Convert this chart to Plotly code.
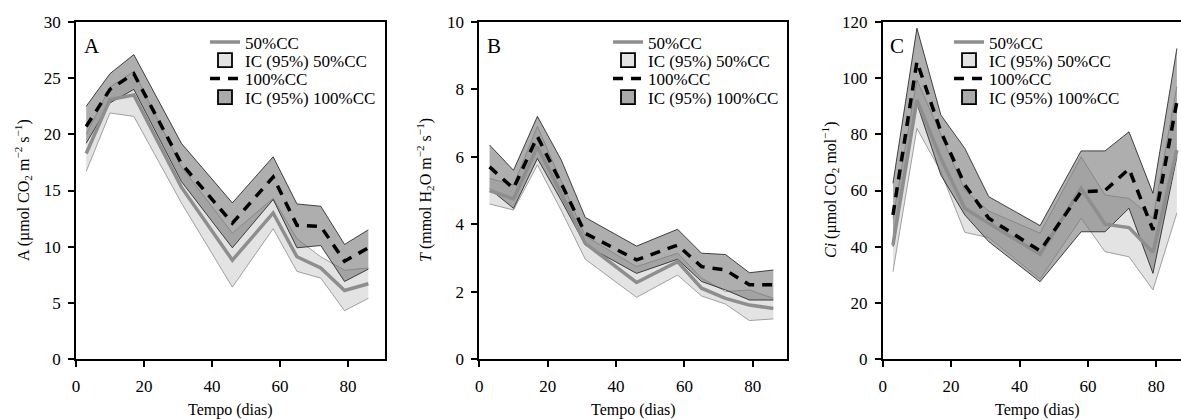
import plotly.graph_objects as go

# ---------------- data ----------------
days = [3, 10, 17, 24, 31, 46, 58, 65, 72, 79, 86]

A_50 = [18.3, 23.1, 23.5, 19.4, 15.3, 8.8, 13.0, 9.1, 8.1, 6.1, 6.7]
A_50_lo = [16.7, 21.9, 21.6, 17.8, 13.9, 6.4, 11.6, 7.8, 7.2, 4.3, 5.4]
A_50_hi = [20.0, 24.2, 25.6, 21.3, 17.1, 11.2, 14.3, 10.7, 9.1, 7.9, 8.1]
A_100 = [20.7, 24.0, 25.4, 21.4, 17.4, 12.1, 16.2, 11.9, 11.8, 8.7, 9.9]
A_100_lo = [19.2, 22.8, 24.0, 19.9, 15.8, 9.9, 14.2, 9.9, 10.1, 6.9, 8.0]
A_100_hi = [22.5, 25.4, 27.1, 23.2, 19.2, 13.9, 18.0, 13.8, 13.6, 10.2, 11.5]

B_50 = [5.0, 4.75, 6.3, 4.9, 3.43, 2.27, 2.89, 2.1, 1.8, 1.6, 1.5]
B_50_lo = [4.6, 4.42, 5.76, 4.4, 2.96, 1.83, 2.49, 1.87, 1.63, 1.14, 1.19]
B_50_hi = [5.36, 5.16, 6.9, 5.3, 3.65, 2.74, 3.14, 2.4, 2.0, 2.05, 1.8]
B_100 = [5.7, 5.06, 6.6, 5.2, 3.73, 2.94, 3.38, 2.74, 2.64, 2.2, 2.2]
B_100_lo = [5.05, 4.47, 5.95, 4.7, 3.38, 2.54, 2.96, 2.3, 2.05, 1.75, 1.75]
B_100_hi = [6.35, 5.6, 7.2, 5.9, 4.2, 3.35, 3.85, 3.14, 3.1, 2.56, 2.64]

C_50 = [40.6, 92.2, 71.5, 53.7, 48.3, 37.3, 60.8, 48.0, 46.8, 38.0, 74.4]
C_50_lo = [31.1, 82.1, 66.7, 45.1, 43.2, 28.5, 50.1, 38.2, 36.4, 24.6, 52.0]
C_50_hi = [50.0, 99.4, 80.0, 60.0, 52.7, 44.8, 72.0, 58.4, 57.2, 50.1, 97.0]
C_100 = [51.3, 105.9, 81.0, 62.0, 50.1, 38.5, 59.5, 60.0, 67.7, 46.0, 91.6]
C_100_lo = [40.0, 91.0, 65.5, 51.3, 41.8, 27.5, 45.3, 45.3, 53.7, 30.5, 72.0]
C_100_hi = [62.6, 117.8, 86.9, 75.0, 57.8, 47.5, 74.1, 74.1, 80.9, 59.0, 110.6]

legend_names = ["50%CC", "IC (95%) 50%CC", "100%CC", "IC (95%) 100%CC"]
panel_letters = ["A", "B", "C"]
y_titles = [
    "A (µmol CO<sub>2</sub> m<sup>−2</sup> s<sup>−1</sup>)",
    "<i>T</i> (mmol H<sub>2</sub>O m<sup>−2</sup> s<sup>−1</sup>)",
    "<i>Ci</i> (µmol CO<sub>2</sub> mol<sup>−1</sup>)",
]
x_title = "Tempo (dias)"
x_ticks = [0, 20, 40, 60, 80]
y_ticks = [[0, 5, 10, 15, 20, 25, 30], [0, 2, 4, 6, 8, 10], [0, 20, 40, 60, 80, 100, 120]]
y_ranges = [[0, 30], [0, 10], [0, 120]]

# ---------------- style ----------------
W, H = 1181, 420
FONT = "Liberation Serif, Times New Roman, DejaVu Serif, serif"
LIGHT_FILL = "rgba(200,200,200,0.5)"
DARK_FILL = "rgba(120,120,120,0.6)"
LINE50 = "#8e8e8e"
DASH = "10px,8px"


def px_x(p):
    return p / W


def px_y(p):
    return (H - p) / H


x_px = [(76, 385), (479.3, 787), (882.7, 1181)]
x_ranges = [[0, 90.9], [0, 90.0], [0, 87.2]]
y_dom = [px_y(359), px_y(22)]

panels = [
    (A_50, A_50_lo, A_50_hi, A_100, A_100_lo, A_100_hi),
    (B_50, B_50_lo, B_50_hi, B_100, B_100_lo, B_100_hi),
    (C_50, C_50_lo, C_50_hi, C_100, C_100_lo, C_100_hi),
]

legend_left = [205, 608, 949]
legend_rows = [42.5, 60.5, 79, 97.5]

fig = go.Figure()
layout = dict(
    template="none",
    width=W, height=H,
    margin=dict(l=0, r=0, t=0, b=0, autoexpand=False),
    paper_bgcolor="white", plot_bgcolor="white",
    font=dict(family=FONT, size=16, color="black"),
    showlegend=True,
)

for i, (m50, lo50, hi50, m100, lo100, hi100) in enumerate(panels):
    xa = "x" if i == 0 else f"x{i+1}"
    ya = "y" if i == 0 else f"y{i+1}"
    common = dict(xaxis=xa, yaxis=ya, hoverinfo="skip", showlegend=False)
    # light band (95% CI, 50%CC)
    fig.add_trace(go.Scatter(x=days, y=lo50, mode="lines",
                             line=dict(color="#8a8a8a", width=0.8), **common))
    fig.add_trace(go.Scatter(x=days, y=hi50, mode="lines", fill="tonexty",
                             fillcolor=LIGHT_FILL,
                             line=dict(color="#8a8a8a", width=0.8), **common))
    # dark band (95% CI, 100%CC)
    fig.add_trace(go.Scatter(x=days, y=lo100, mode="lines",
                             line=dict(color="#1a1a1a", width=0.8), **common))
    fig.add_trace(go.Scatter(x=days, y=hi100, mode="lines", fill="tonexty",
                             fillcolor=DARK_FILL,
                             line=dict(color="#1a1a1a", width=0.8), **common))
    # mean lines
    fig.add_trace(go.Scatter(x=days, y=m50, mode="lines",
                             line=dict(color=LINE50, width=3.5), **common))
    fig.add_trace(go.Scatter(x=days, y=m100, mode="lines",
                             line=dict(color="black", width=3.5, dash=DASH), **common))

    styles = [
        dict(mode="lines", line=dict(color=LINE50, width=3.5)),
        dict(mode="markers", marker=dict(symbol="square", size=14, color="#e3e3e3",
                                         line=dict(color="black", width=1.8))),
        dict(mode="lines", line=dict(color="black", width=3.5, dash=DASH)),
        dict(mode="markers", marker=dict(symbol="square", size=14, color="#aaaaaa",
                                         line=dict(color="black", width=1.8))),
    ]
    for k in range(4):
        idx = i * 4 + k + 1
        lg = "legend" if idx == 1 else f"legend{idx}"
        fig.add_trace(go.Scatter(x=[None], y=[None], name=legend_names[k], legend=lg,
                                 xaxis=xa, yaxis=ya, showlegend=True, hoverinfo="skip",
                                 **styles[k]))
        layout[lg] = dict(
            x=px_x(legend_left[i]), xanchor="left",
            y=px_y(legend_rows[k]), yanchor="middle",
            bgcolor="rgba(0,0,0,0)", borderwidth=0, font=dict(size=17),
            traceorder="normal", itemwidth=30,
        )

for i in range(3):
    sx = "" if i == 0 else str(i + 1)
    x0, x1 = x_px[i]
    layout["xaxis" + sx] = dict(
        domain=[px_x(x0), min(1.0, px_x(x1))], range=x_ranges[i], anchor="y" + sx,
        tickvals=x_ticks, ticks="outside", ticklen=6, tickwidth=1.5, tickcolor="black",
        showline=True, linewidth=1.8, linecolor="black", mirror=True,
        showgrid=False, zeroline=False, tickfont=dict(size=17),
        automargin=False, ticklabelstandoff=5,
    )
    layout["yaxis" + sx] = dict(
        domain=y_dom, range=y_ranges[i], anchor="x" + sx,
        tickvals=y_ticks[i], ticks="outside", ticklen=6, tickwidth=1.5, tickcolor="black",
        showline=True, linewidth=1.8, linecolor="black", mirror=(i < 2),
        showgrid=False, zeroline=False, tickfont=dict(size=17),
        automargin=False, ticklabelstandoff=4,
    )

fig.update_layout(**layout)

letter_x = [82, 485, 888]
y_title_x = [23, 425, 830]
for i in range(3):
    x0, x1 = x_px[i]
    fig.add_annotation(text=panel_letters[i], xref="paper", yref="paper",
                       x=px_x(letter_x[i]), y=px_y(46), xanchor="left", yanchor="middle",
                       showarrow=False, font=dict(size=21))
    fig.add_annotation(text=y_titles[i], xref="paper", yref="paper", textangle=-90,
                       x=px_x(y_title_x[i]), y=px_y(190), xanchor="center", yanchor="middle",
                       showarrow=False, font=dict(size=16))
    xc = (x0 + x0 + 309) / 2
    fig.add_annotation(text=x_title, xref="paper", yref="paper",
                       x=px_x(xc), y=px_y(410), xanchor="center", yanchor="middle",
                       showarrow=False, font=dict(size=16))

# remove the browser's default 8px page margin so the figure fills the window exactly
fig.write_html("out.html", config={"displayModeBar": False},
               post_script="document.body.style.margin='0px';")
